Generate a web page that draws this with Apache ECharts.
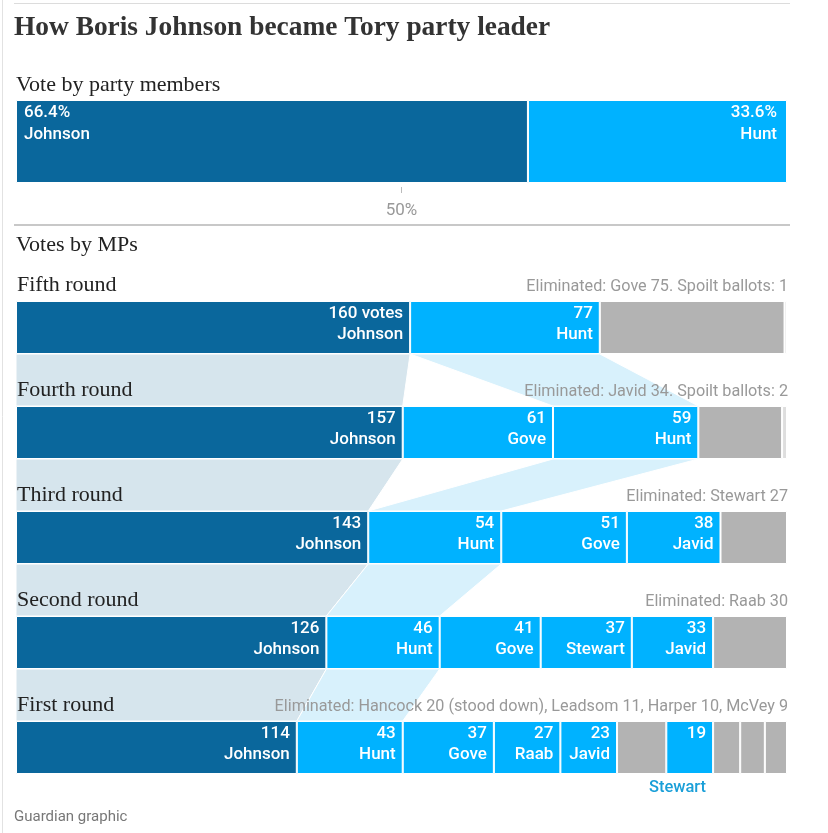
<!DOCTYPE html>
<html lang="en">
<head>
    <meta charset="utf-8">
    <title>How Boris Johnson became Tory party leader</title>
    <script src="https://cdn.jsdelivr.net/npm/echarts@6.0.0/dist/echarts.min.js"></script>
    <style>
        body { margin: 0; background: #fff; }
        #main { width: 828px; height: 833px; }
    </style>
</head>
<body>
<div id="main"></div>
<script>
    // party members vote (%)
    var memberNames = ['Johnson', 'Hunt'];
    var memberShares = [66.4, 33.6];

    // MP ballots, top row = last round
    var roundNames = ['Fifth round', 'Fourth round', 'Third round', 'Second round', 'First round'];
    var roundNotes = [
        'Eliminated: Gove 75. Spoilt ballots: 1',
        'Eliminated: Javid 34. Spoilt ballots: 2',
        'Eliminated: Stewart 27',
        'Eliminated: Raab 30',
        'Eliminated: Hancock 20 (stood down), Leadsom 11, Harper 10, McVey 9'
    ];

    var fifthCandidates = ['Johnson', 'Hunt', 'Gove', 'Spoilt'];
    var fifthVotes = [160, 77, 75, 1];
    var fifthOut = ['Gove', 'Spoilt'];

    var fourthCandidates = ['Johnson', 'Gove', 'Hunt', 'Javid', 'Spoilt'];
    var fourthVotes = [157, 61, 59, 34, 2];
    var fourthOut = ['Javid', 'Spoilt'];

    var thirdCandidates = ['Johnson', 'Hunt', 'Gove', 'Javid', 'Stewart'];
    var thirdVotes = [143, 54, 51, 38, 27];
    var thirdOut = ['Stewart'];

    var secondCandidates = ['Johnson', 'Hunt', 'Gove', 'Stewart', 'Javid', 'Raab'];
    var secondVotes = [126, 46, 41, 37, 33, 30];
    var secondOut = ['Raab'];

    var firstCandidates = ['Johnson', 'Hunt', 'Gove', 'Raab', 'Javid', 'Hancock', 'Stewart', 'Leadsom', 'Harper', 'McVey'];
    var firstVotes = [114, 43, 37, 27, 23, 20, 19, 11, 10, 9];
    var firstOut = ['Hancock', 'Leadsom', 'Harper', 'McVey'];

    var totalMPs = 313;
    var linkedCandidates = ['Johnson', 'Hunt'];

    var roundCandidates = [fifthCandidates, fourthCandidates, thirdCandidates, secondCandidates, firstCandidates];
    var roundVotes = [fifthVotes, fourthVotes, thirdVotes, secondVotes, firstVotes];
    var roundOut = [fifthOut, fourthOut, thirdOut, secondOut, firstOut];

    var DARK = '#0a679c';
    var LIGHT = '#00b2ff';
    var GREY = '#b3b3b3';
    var BAR_H = 53;

    function segColor(name, i) {
        if (name == 'Spoilt') return '#dedede';
        if (roundOut[i].indexOf(name) > -1) return GREY;
        return name == 'Johnson' ? DARK : LIGHT;
    }

    function startOf(i, name) {
        var idx = roundCandidates[i].indexOf(name);
        var s = 0;
        for (var k = 0; k < idx; k++) s += roundVotes[i][k];
        return s;
    }

    var myChart = echarts.init(document.getElementById('main'));

    var series = [];

    // party members bar
    series.push({
        type: 'bar', xAxisIndex: 0, yAxisIndex: 0, stack: 'members', barWidth: 83,
        data: [memberShares[0]],
        itemStyle: {color: DARK, borderColor: '#fff', borderWidth: 1},
        label: {
            show: true, position: [8, 2], align: 'left', verticalAlign: 'top',
            color: '#fff', fontFamily: 'Roboto', fontSize: 17, lineHeight: 22, fontWeight: 500,
            formatter: memberShares[0] + '%\n' + memberNames[0]
        }
    });
    series.push({
        type: 'bar', xAxisIndex: 0, yAxisIndex: 0, stack: 'members', barWidth: 83,
        data: [memberShares[1]],
        itemStyle: {color: LIGHT, borderColor: '#fff', borderWidth: 1},
        label: {
            show: true, position: ['100%', 0], offset: [-10, 2], align: 'right', verticalAlign: 'top',
            color: '#fff', fontFamily: 'Roboto', fontSize: 17, lineHeight: 22, fontWeight: 500,
            formatter: memberShares[1] + '%\n' + memberNames[1]
        }
    });

    // connectors between rounds (Johnson and Hunt)
    var linkData = [];
    for (var i = 0; i < roundNames.length - 1; i++) {
        for (var c = 0; c < linkedCandidates.length; c++) {
            var nm = linkedCandidates[c];
            var u = roundCandidates[i].indexOf(nm);
            var l = roundCandidates[i + 1].indexOf(nm);
            linkData.push([
                startOf(i, nm), startOf(i, nm) + roundVotes[i][u],
                startOf(i + 1, nm), startOf(i + 1, nm) + roundVotes[i + 1][l],
                i, c
            ]);
        }
    }
    series.push({
        type: 'custom', xAxisIndex: 1, yAxisIndex: 1, z: 1, silent: true,
        encode: {x: [0, 1, 2, 3], y: 4},
        data: linkData,
        renderItem: function (params, api) {
            var row = api.value(4);
            var a = api.coord([api.value(0), row]);
            var b = api.coord([api.value(1), row]);
            var cc = api.coord([api.value(3), row + 1]);
            var d = api.coord([api.value(2), row + 1]);
            var y1 = a[1] + BAR_H / 2;
            var y2 = cc[1] - BAR_H / 2;
            return {
                type: 'polygon',
                shape: {points: [[a[0], y1], [b[0], y1], [cc[0], y2], [d[0], y2]]},
                style: {fill: api.value(5) == 0 ? '#d6e5ed' : '#d8f1fc', stroke: '#fff', lineWidth: 1}
            };
        }
    });

    // round titles and elimination notes
    var noteData = roundNames.map(function (n, i) { return [0, totalMPs, i]; });
    series.push({
        type: 'custom', xAxisIndex: 1, yAxisIndex: 1, z: 5, silent: true,
        encode: {x: [0, 1], y: 2},
        data: noteData,
        renderItem: function (params, api) {
            var i = params.dataIndex;
            var l = api.coord([api.value(0), api.value(2)]);
            var r = api.coord([api.value(1), api.value(2)]);
            var top = l[1] - BAR_H / 2;
            return {
                type: 'group',
                children: [{
                    type: 'text',
                    style: {
                        x: l[0] + 1, y: top - 16, text: roundNames[i],
                        fill: '#222', fontFamily: 'Liberation Serif', fontSize: 22,
                        align: 'left', verticalAlign: 'middle'
                    }
                }, {
                    type: 'text',
                    style: {
                        x: r[0] + 1, y: top - 14, text: roundNotes[i],
                        fill: '#999', fontFamily: 'Roboto', fontSize: 16.2,
                        align: 'right', verticalAlign: 'middle'
                    }
                }]
            };
        }
    });

    // stacked MP bars, one series per position in the row
    var maxSlots = 0;
    roundCandidates.forEach(function (r) { maxSlots = Math.max(maxSlots, r.length); });
    for (var s = 0; s < maxSlots; s++) {
        (function (s) {
            series.push({
                type: 'bar', xAxisIndex: 1, yAxisIndex: 1, stack: 'mps', barWidth: BAR_H, z: 2,
                data: roundNames.map(function (n, i) {
                    if (s >= roundCandidates[i].length) return '-';
                    return {value: roundVotes[i][s], itemStyle: {color: segColor(roundCandidates[i][s], i)}};
                }),
                itemStyle: {borderColor: '#fff', borderWidth: 1},
                label: {
                    show: true, position: ['100%', 0], offset: [-7, 2], align: 'right', verticalAlign: 'top',
                    color: '#fff', fontFamily: 'Roboto', fontSize: 17, lineHeight: 21, fontWeight: 500,
                    rich: {
                        v: {color: '#fff', fontFamily: 'Roboto', fontSize: 17, lineHeight: 21, fontWeight: 500, align: 'right'},
                        gap: {lineHeight: 33},
                        below: {color: '#1a9fd8', fontFamily: 'Roboto', fontSize: 16.5, lineHeight: 21, align: 'right'}
                    },
                    formatter: function (p) {
                        var i = p.dataIndex;
                        var name = roundCandidates[i][s];
                        if (roundOut[i].indexOf(name) > -1) return '';
                        var v = roundVotes[i][s];
                        if (v < 20) return '{v|' + v + '}\n{gap|}\n{below|' + name + '}';
                        return (i == 0 && s == 0 ? v + ' votes' : v) + '\n' + name;
                    }
                }
            });
        })(s);
    }

    var option = {
        animation: false,
        title: [{
            text: 'How Boris Johnson became Tory party leader', left: 14, top: 14, padding: 0,
            textStyle: {fontFamily: 'Liberation Serif', fontWeight: 'bold', fontSize: 27.4, color: '#333'}
        }, {
            text: 'Vote by party members', left: 16, top: 74, padding: 0,
            textStyle: {fontFamily: 'Liberation Serif', fontWeight: 'normal', fontSize: 22, color: '#222'}
        }, {
            text: 'Votes by MPs', left: 16, top: 234, padding: 0,
            textStyle: {fontFamily: 'Liberation Serif', fontWeight: 'normal', fontSize: 22, color: '#222'}
        }, {
            text: 'Guardian graphic', left: 14, top: 810, padding: 0,
            textStyle: {fontFamily: 'Roboto', fontWeight: 'normal', fontSize: 15, color: '#777'}
        }],
        graphic: [
            {type: 'line', shape: {x1: 2.5, y1: 0, x2: 2.5, y2: 833}, style: {stroke: '#e2e2e2', lineWidth: 1}},
            {type: 'line', shape: {x1: 14, y1: 3.5, x2: 790, y2: 3.5}, style: {stroke: '#dcdcdc', lineWidth: 1}},
            {type: 'line', shape: {x1: 14, y1: 225, x2: 790, y2: 225}, style: {stroke: '#c8c8c8', lineWidth: 2}}
        ],
        grid: [
            {left: 16, right: 41, top: 100, height: 83},
            {left: 16, right: 41, top: 275, height: 525}
        ],
        xAxis: [{
            gridIndex: 0, type: 'value', min: 0, max: 100, interval: 50, offset: 4,
            axisLine: {show: false},
            axisTick: {show: true, customValues: [50], length: 6, lineStyle: {color: '#bbb'}},
            axisLabel: {customValues: [50], formatter: '{value}%', color: '#999', fontFamily: 'Roboto', fontSize: 17, margin: 15},
            splitLine: {show: false}
        }, {
            gridIndex: 1, type: 'value', min: 0, max: totalMPs, show: false
        }],
        yAxis: [{
            gridIndex: 0, type: 'category', data: ['members'], show: false
        }, {
            gridIndex: 1, type: 'category', data: roundNames, inverse: true, show: false
        }],
        series: series
    };

    myChart.setOption(option);
</script>
</body>
</html>
